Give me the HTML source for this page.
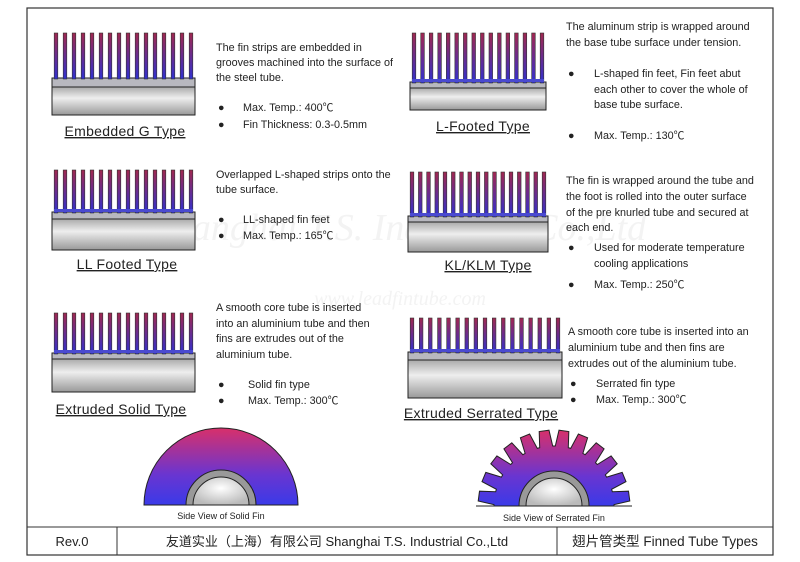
<!DOCTYPE html>
<html><head><meta charset="utf-8"><style>
body{margin:0;background:#fff}
svg{display:block}
text{font-family:"Liberation Sans","Noto Sans CJK SC",sans-serif;fill:#222}
.t{font-size:10.8px}
.lab{font-size:14px;text-decoration:underline;letter-spacing:0.3px}
</style></head><body>
<svg id="s" width="800" height="562" viewBox="0 0 800 562">
<defs>
<linearGradient id="fin" x1="0" y1="0" x2="0" y2="1"><stop offset="0" stop-color="#a02850"/><stop offset="1" stop-color="#3030d0"/></linearGradient>
<linearGradient id="tube" x1="0" y1="0" x2="0" y2="1"><stop offset="0" stop-color="#aaa"/><stop offset=".4" stop-color="#eee"/><stop offset="1" stop-color="#999"/></linearGradient>
<linearGradient id="disc" x1="0" y1="0" x2="0" y2="1"><stop offset="0" stop-color="#d8306a"/><stop offset=".6" stop-color="#6a35d0"/><stop offset="1" stop-color="#3a3ae8"/></linearGradient>
<radialGradient id="core" cx=".5" cy=".4" r=".6"><stop offset="0" stop-color="#fff"/><stop offset="1" stop-color="#bbb"/></radialGradient>
</defs>
<rect x="27" y="8" width="746" height="547" fill="none" stroke="#333" stroke-width="1.2"/>
<text x="400" y="240" font-size="38" font-style="italic" text-anchor="middle" style="fill:#f3f3f3;font-family:'Liberation Serif',serif">Shanghai T.S. Industrial Co.,Ltd</text>
<text x="400" y="305" font-size="20" font-style="italic" text-anchor="middle" style="fill:#f3f3f3;font-family:'Liberation Serif',serif">www.leadfintube.com</text>
<g id="figs"></g>

<g class="t">
<text x="216" y="51">The fin strips are embedded in</text>
<text x="216" y="66">grooves machined into the surface of</text>
<text x="216" y="81">the steel tube.</text>
<text x="218" y="111">●</text><text x="243" y="111">Max. Temp.: 400℃</text>
<text x="218" y="128">●</text><text x="243" y="128">Fin Thickness: 0.3-0.5mm</text>
</g>
<g class="t">
<text x="566" y="30">The aluminum strip is wrapped around</text>
<text x="566" y="46">the base tube surface under tension.</text>
<text x="568" y="77">●</text><text x="594" y="77">L-shaped fin feet, Fin feet abut</text>
<text x="594" y="93">each other to cover the whole of</text>
<text x="594" y="108">base tube surface.</text>
<text x="568" y="139">●</text><text x="594" y="139">Max. Temp.: 130℃</text>
</g>
<g class="t">
<text x="216" y="178">Overlapped L-shaped strips onto the</text>
<text x="216" y="193">tube surface.</text>
<text x="218" y="223">●</text><text x="243" y="223">LL-shaped fin feet</text>
<text x="218" y="239">●</text><text x="243" y="239">Max. Temp.: 165℃</text>
</g>
<g class="t">
<text x="566" y="184">The fin is wrapped around the tube and</text>
<text x="566" y="200">the foot is rolled into the outer surface</text>
<text x="566" y="216">of the pre knurled tube and secured at</text>
<text x="566" y="231">each end.</text>
<text x="568" y="251">●</text><text x="594" y="251">Used for moderate temperature</text>
<text x="594" y="267">cooling applications</text>
<text x="568" y="288">●</text><text x="594" y="288">Max. Temp.: 250℃</text>
</g>
<g class="t">
<text x="216" y="311">A smooth core tube is inserted</text>
<text x="216" y="327">into an aluminium tube and then</text>
<text x="216" y="342">fins are extrudes out of the</text>
<text x="216" y="358">aluminium tube.</text>
<text x="218" y="388">●</text><text x="248" y="388">Solid fin type</text>
<text x="218" y="404">●</text><text x="248" y="404">Max. Temp.: 300℃</text>
</g>
<g class="t">
<text x="568" y="335">A smooth core tube is inserted into an</text>
<text x="568" y="351">aluminium tube and then fins are</text>
<text x="568" y="367">extrudes out of the aluminium tube.</text>
<text x="570" y="387">●</text><text x="596" y="387">Serrated fin type</text>
<text x="570" y="403">●</text><text x="596" y="403">Max. Temp.: 300℃</text>
</g>

<text class="lab" x="125" y="136" text-anchor="middle">Embedded G Type</text>
<text class="lab" x="483" y="131" text-anchor="middle">L-Footed Type</text>
<text class="lab" x="127" y="269" text-anchor="middle">LL Footed Type</text>
<text class="lab" x="488" y="270" text-anchor="middle">KL/KLM Type</text>
<text class="lab" x="121" y="414" text-anchor="middle">Extruded Solid Type</text>
<text class="lab" x="481" y="418" text-anchor="middle">Extruded Serrated Type</text>

<g>
<path d="M144 505 A77 77 0 0 1 298 505 Z" fill="url(#disc)" stroke="#222"/>
<path d="M186 505 A35 35 0 0 1 256 505 Z" fill="#999" stroke="#222"/>
<path d="M193 505 A28 28 0 0 1 249 505 Z" fill="url(#core)" stroke="#222"/>
<text x="221" y="519" font-size="9" text-anchor="middle">Side View of Solid Fin</text>
</g>
<g>
<path id="serr" fill="url(#disc)" stroke="#222"/>
<line x1="476" y1="506" x2="632" y2="506" stroke="#222"/>
<path d="M519 506 A35 35 0 0 1 589 506 Z" fill="#999" stroke="#222"/>
<path d="M526 506 A28 28 0 0 1 582 506 Z" fill="url(#core)" stroke="#222"/>
<text x="554" y="521" font-size="9" text-anchor="middle">Side View of Serrated Fin</text>
</g>

<g>
<line x1="27" y1="527" x2="773" y2="527" stroke="#333"/>
<line x1="117" y1="527" x2="117" y2="555" stroke="#333"/>
<line x1="557" y1="527" x2="557" y2="555" stroke="#333"/>
<text x="72" y="546" font-size="13" text-anchor="middle">Rev.0</text>
<text x="337" y="546" font-size="13" text-anchor="middle">友道实业（上海）有限公司 Shanghai T.S. Industrial Co.,Ltd</text>
<text x="665" y="546" font-size="13.5" text-anchor="middle">翅片管类型 Finned Tube Types</text>
</g>
</svg>
<script>
const NS="http://www.w3.org/2000/svg";
const figs=document.getElementById('figs');
const F=[[52,195,33,78,9,115,16,'embedded-g-figure'],[410,546,33,82,6,110,16,'l-footed-figure'],
[52,195,170,212,7,250,16,'ll-footed-figure'],[408,548,172,216,6,252,17,'kl-klm-figure'],
[52,195,313,353,6,392,16,'extruded-solid-figure'],[408,562,318,352,8,398,17,'extruded-serrated-figure']];
function mk(t,a){const e=document.createElementNS(NS,t);for(const k in a)e.setAttribute(k,a[k]);return e;}
F.forEach(f=>{
 const g=mk('g',{});
 
 
 g.appendChild(mk('rect',{x:f[0],y:f[3]+f[4],width:f[1]-f[0],height:f[5]-f[3]-f[4],fill:'url(#tube)',stroke:'#222'}));
 g.appendChild(mk('rect',{x:f[0],y:f[3],width:f[1]-f[0],height:f[4],fill:'#b8b8bf',stroke:'#222'}));
 const n=f[6],step=(f[1]-f[0]-8)/(n-1);
 for(let i=0;i<n;i++){const x=f[0]+4+i*step;
  g.appendChild(mk('rect',{x:x-1.8,y:f[2],width:3.6,height:f[3]-f[2]+1,fill:'url(#fin)',stroke:'#333','stroke-width':0.6}));}
 if(f[7]!=='embedded-g-figure')g.appendChild(mk('rect',{x:f[0]+2,y:f[3]-3,width:f[1]-f[0]-4,height:3,fill:'#4a4ad0'}));
 figs.appendChild(g);
});
const cx=554,cy=506,R=76,r=60,N=12;
function pt(rr,a){return (cx-rr*Math.cos(a)).toFixed(1)+' '+(cy-rr*Math.sin(a)).toFixed(1);}
let d='M'+pt(r,0);
for(let i=0;i<N;i++){const p=Math.PI/N,a=i*p;
 d+='L'+pt(r,a+p*0.08)+'L'+pt(R,a+p*0.25)+'L'+pt(R,a+p*0.75)+'L'+pt(r,a+p*0.92)+'L'+pt(r,a+p);}
document.getElementById('serr').setAttribute('d',d+'Z');
</script>
</body></html>
